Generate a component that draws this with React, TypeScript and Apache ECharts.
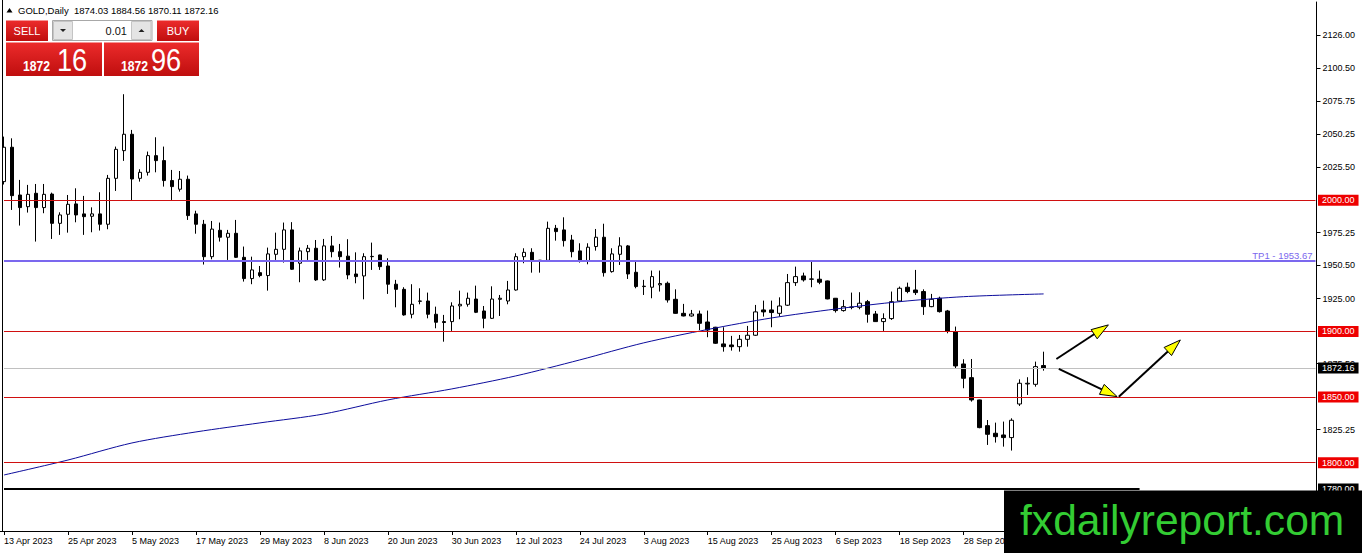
import React, { useEffect, useRef } from "react";
import * as echarts from "echarts";

const FONT = "Liberation Sans";
const SYMBOL = "GOLD,Daily";
const FIRST_DAY = "2023-04-13";
const SLOT_COUNT = 165;
const LAST_LABEL_BAR = 120;
const MONTHS = ["Jan", "Feb", "Mar", "Apr", "May", "Jun", "Jul", "Aug", "Sep", "Oct", "Nov", "Dec"];

// daily bars: [open, high, low, close]
const ohlc: number[][] = [
  [2014.2, 2048.5, 2012.0, 2040.4],
  [2040.4, 2047.2, 1992.6, 2003.5],
  [2004.0, 2015.5, 1980.7, 1994.4],
  [1995.1, 2011.7, 1990.6, 2004.5],
  [2005.3, 2012.4, 1968.5, 1994.4],
  [1994.4, 2012.4, 1990.1, 2004.5],
  [2004.7, 2005.8, 1970.5, 1982.4],
  [1982.4, 1990.8, 1973.6, 1988.8],
  [1989.3, 2004.0, 1975.3, 1996.9],
  [1997.2, 2009.1, 1983.2, 1988.8],
  [1989.6, 2003.3, 1973.6, 1987.5],
  [1987.8, 1994.6, 1975.6, 1989.6],
  [1989.6, 2006.1, 1976.9, 1981.7],
  [1981.7, 2019.3, 1977.9, 2016.7],
  [2016.7, 2040.9, 2007.1, 2038.8],
  [2037.8, 2080.8, 2030.0, 2050.3],
  [2050.3, 2053.6, 1999.5, 2016.2],
  [2016.7, 2023.6, 2014.2, 2021.3],
  [2021.3, 2037.1, 2018.8, 2034.0],
  [2034.0, 2048.0, 2021.3, 2030.2],
  [2030.2, 2040.9, 2010.4, 2015.0],
  [2015.0, 2023.1, 2000.2, 2010.4],
  [2008.4, 2022.3, 2006.6, 2016.0],
  [2016.0, 2018.8, 1985.0, 1988.3],
  [1989.6, 1992.0, 1974.5, 1981.7],
  [1981.7, 1985.0, 1951.0, 1957.0],
  [1957.0, 1984.2, 1955.0, 1978.0],
  [1977.1, 1983.0, 1968.5, 1971.8],
  [1971.8, 1977.4, 1954.5, 1974.8],
  [1974.8, 1985.0, 1956.0, 1956.5],
  [1956.5, 1964.7, 1938.0, 1940.3],
  [1940.3, 1957.0, 1936.0, 1946.9],
  [1944.8, 1949.9, 1941.3, 1942.6],
  [1942.6, 1963.9, 1931.1, 1959.1],
  [1958.8, 1975.3, 1954.5, 1962.6],
  [1962.6, 1983.0, 1952.5, 1977.4],
  [1977.4, 1983.3, 1946.9, 1947.4],
  [1952.0, 1963.9, 1937.5, 1961.4],
  [1960.8, 1965.9, 1954.5, 1963.4],
  [1963.4, 1969.7, 1938.5, 1939.3],
  [1939.3, 1970.5, 1938.5, 1965.2],
  [1965.2, 1972.8, 1956.5, 1960.8],
  [1960.8, 1966.7, 1948.7, 1957.0],
  [1957.4, 1970.3, 1939.8, 1943.1],
  [1943.8, 1960.3, 1936.7, 1941.8],
  [1942.3, 1959.6, 1924.5, 1957.0],
  [1957.0, 1967.7, 1946.9, 1957.2],
  [1958.3, 1958.5, 1946.9, 1949.4],
  [1949.9, 1955.8, 1928.6, 1936.0],
  [1936.0, 1939.3, 1918.4, 1932.1],
  [1932.1, 1933.7, 1912.0, 1912.6],
  [1913.1, 1936.0, 1910.0, 1920.7],
  [1923.0, 1932.9, 1920.7, 1923.2],
  [1923.2, 1929.6, 1910.0, 1913.1],
  [1913.1, 1918.9, 1902.4, 1907.0],
  [1907.5, 1912.6, 1892.2, 1906.8],
  [1907.5, 1922.2, 1900.4, 1919.4],
  [1919.5, 1931.1, 1909.3, 1920.7],
  [1920.7, 1929.6, 1918.9, 1925.3],
  [1924.7, 1934.9, 1914.0, 1914.6],
  [1915.6, 1919.4, 1902.4, 1910.0],
  [1910.0, 1934.4, 1909.5, 1924.7],
  [1924.5, 1927.8, 1911.8, 1925.3],
  [1923.2, 1938.5, 1920.7, 1931.6],
  [1931.6, 1959.6, 1931.1, 1957.0],
  [1957.0, 1963.4, 1952.0, 1960.3],
  [1960.3, 1963.4, 1944.8, 1954.5],
  [1954.0, 1954.5, 1944.8, 1954.3],
  [1954.2, 1983.7, 1953.5, 1978.6],
  [1978.6, 1981.2, 1969.2, 1976.1],
  [1977.4, 1987.0, 1964.7, 1969.2],
  [1969.7, 1973.6, 1956.5, 1960.8],
  [1961.4, 1967.2, 1952.5, 1953.8],
  [1953.8, 1967.2, 1951.2, 1964.2],
  [1964.7, 1978.1, 1961.6, 1971.8],
  [1971.8, 1982.1, 1941.8, 1944.8],
  [1945.6, 1963.4, 1944.8, 1959.1],
  [1958.8, 1971.8, 1950.7, 1965.2],
  [1965.2, 1965.9, 1940.0, 1943.8],
  [1945.1, 1953.2, 1932.9, 1934.2],
  [1934.2, 1939.3, 1927.8, 1934.5],
  [1933.7, 1946.4, 1925.3, 1941.8],
  [1935.5, 1946.4, 1930.4, 1936.5],
  [1936.7, 1938.0, 1922.0, 1924.0],
  [1924.5, 1932.1, 1913.5, 1913.8],
  [1913.8, 1921.0, 1911.5, 1911.8],
  [1911.8, 1916.4, 1911.3, 1913.3],
  [1913.3, 1915.9, 1901.1, 1906.2],
  [1907.2, 1915.9, 1895.6, 1901.1],
  [1903.2, 1903.5, 1890.5, 1891.0],
  [1890.5, 1903.2, 1884.6, 1888.4],
  [1889.7, 1896.6, 1885.4, 1888.4],
  [1888.4, 1897.3, 1884.6, 1894.0],
  [1894.0, 1904.2, 1888.4, 1897.1],
  [1897.1, 1920.2, 1896.6, 1914.9],
  [1916.4, 1923.5, 1911.3, 1914.9],
  [1916.4, 1923.5, 1903.2, 1914.4],
  [1913.8, 1926.0, 1911.3, 1919.4],
  [1920.0, 1943.8, 1919.4, 1937.2],
  [1937.2, 1949.4, 1934.7, 1941.8],
  [1942.3, 1944.8, 1938.0, 1939.3],
  [1939.8, 1953.0, 1933.7, 1940.0],
  [1939.8, 1946.4, 1936.0, 1937.5],
  [1938.5, 1938.8, 1924.5, 1924.8],
  [1925.3, 1925.5, 1914.4, 1915.9],
  [1915.9, 1924.0, 1915.1, 1918.9],
  [1918.4, 1929.6, 1916.9, 1918.6],
  [1918.4, 1929.9, 1916.9, 1921.5],
  [1922.7, 1924.0, 1906.7, 1913.1],
  [1913.3, 1915.6, 1907.3, 1907.5],
  [1907.5, 1913.8, 1900.4, 1909.8],
  [1909.8, 1930.4, 1908.8, 1922.7],
  [1923.2, 1934.2, 1922.7, 1932.9],
  [1933.7, 1937.2, 1929.1, 1930.4],
  [1931.6, 1946.9, 1927.8, 1929.6],
  [1930.4, 1932.1, 1912.6, 1918.9],
  [1918.9, 1928.6, 1918.5, 1924.5],
  [1925.3, 1926.5, 1914.4, 1915.1],
  [1915.6, 1916.4, 1898.6, 1900.0],
  [1899.9, 1903.7, 1871.9, 1873.7],
  [1875.2, 1878.8, 1856.7, 1864.3],
  [1864.8, 1879.0, 1846.5, 1847.8],
  [1847.8, 1848.0, 1826.2, 1826.7],
  [1828.2, 1832.5, 1813.5, 1821.6],
  [1822.4, 1830.5, 1815.3, 1819.8],
  [1821.1, 1831.3, 1812.2, 1819.1],
  [1819.1, 1833.8, 1809.2, 1832.3],
  [1844.7, 1863.5, 1843.2, 1860.5],
  [1860.0, 1865.1, 1851.6, 1860.5],
  [1859.7, 1877.0, 1857.9, 1873.2],
  [1874.03, 1884.56, 1870.11, 1872.16],
];

// moving average, read at a few bars
const maBars = [0, 8, 16, 24, 32, 40, 48, 56, 64, 72, 80, 88, 96, 104, 112, 120, 130];
const maValues = [1790.6, 1802.0, 1815.0, 1823.4, 1830.3, 1837.1, 1847.8, 1856.2, 1866.1, 1878.3, 1891.3, 1901.5, 1910.3, 1917.1, 1922.7, 1926.5, 1928.6];

const redLevels = [2000, 1900, 1850, 1800];
const tpLevel = 1953.67;
const bidLevel = 1872.16;
const supportLevel = 1780;
const supportEndBar = 142;
const yTickValues = [2126.0, 2100.5, 2075.75, 2050.25, 2025.5, 1975.25, 1950.5, 1925.0, 1875.5, 1825.25];
const Y_MIN = 1747.9;
const Y_MAX = 2151.1;

const sellPrice = "1872.16";
const buyPrice = "1872.96";
const lotSize = "0.01";

// hand-drawn arrows: [bar, price] -> [bar, price]
const arrows = [
  { from: [131.6, 1879.0], to: [138.1, 1905.0] },
  { from: [131.9, 1871.4], to: [139.2, 1850.3] },
  { from: [139.4, 1850.3], to: [147.1, 1893.5] },
];

function buildDates(first: string, n: number): string[] {
  const out: string[] = [];
  const d = new Date(first + "T00:00:00Z");
  while (out.length < n) {
    const wd = d.getUTCDay();
    if (wd !== 0 && wd !== 6) out.push(`${d.getUTCDate()} ${MONTHS[d.getUTCMonth()]} ${d.getUTCFullYear()}`);
    d.setUTCDate(d.getUTCDate() + 1);
  }
  return out;
}

const dates = buildDates(FIRST_DAY, SLOT_COUNT);
const LAST = SLOT_COUNT - 1;

function boxLabel(text: string, bg: string) {
  return {
    show: true,
    position: "end",
    distance: 2.5,
    formatter: text,
    color: "#fff",
    backgroundColor: bg,
    padding: [1, 4, 0, 4],
    fontSize: 9,
    lineHeight: 10,
    fontFamily: FONT,
  };
}

function levelLine(value: number, lineStyle: any, label: any, from = 0, to = LAST) {
  return [
    { coord: [from, value], lineStyle, label },
    { coord: [to, value] },
  ];
}

function buildOption(): any {
  const markData: any[] = [];
  markData.push(levelLine(bidLevel, { color: "#c0c0c0", width: 1, type: "solid" }, boxLabel(bidLevel.toFixed(2), "#000")));
  redLevels.forEach((v) => {
    markData.push(levelLine(v, { color: "#d01010", width: 1, type: "solid" }, boxLabel(v.toFixed(2), "#ee0000")));
  });
  markData.push(
    levelLine(tpLevel, { color: "#7b68ee", width: 2, type: "solid" }, {
      show: true,
      position: "insideEndTop",
      distance: [3, 1],
      formatter: `TP1 - ${tpLevel.toFixed(2)}`,
      color: "#7b68ee",
      fontSize: 9.5,
      fontFamily: FONT,
    })
  );
  markData.push(levelLine(supportLevel, { color: "#000", width: 2, type: "solid" }, { show: false }, 0, supportEndBar));
  markData.push(
    levelLine(supportLevel, { color: "rgba(0,0,0,0)", width: 1, type: "solid" }, boxLabel(supportLevel.toFixed(2), "#000"), LAST - 1, LAST)
  );

  return {
    animation: false,
    backgroundColor: "#fff",
    textStyle: { fontFamily: FONT },
    grid: { left: -0.5, top: 2, width: 1320, height: 529, containLabel: false, show: false },
    xAxis: {
      type: "category",
      data: dates,
      boundaryGap: true,
      axisLine: { show: true, lineStyle: { color: "#000", width: 1 } },
      axisTick: { show: true, alignWithLabel: true, interval: 7, length: 4, lineStyle: { color: "#000" } },
      axisLabel: {
        interval: 7,
        align: "left",
        margin: 5,
        color: "#000",
        fontSize: 9,
        fontFamily: FONT,
        hideOverlap: false,
        formatter: (v: string, idx: number) => (idx <= LAST_LABEL_BAR ? v : ""),
      },
      splitLine: { show: false },
    },
    yAxis: {
      type: "value",
      position: "right",
      offset: -3,
      min: Y_MIN,
      max: Y_MAX,
      splitLine: { show: false },
      axisLine: { show: true, lineStyle: { color: "#000", width: 1 } },
      axisTick: { show: true, length: 4, lineStyle: { color: "#000" }, customValues: yTickValues },
      axisLabel: {
        customValues: yTickValues,
        formatter: (v: number) => v.toFixed(2),
        color: "#000",
        fontSize: 9,
        fontFamily: FONT,
        margin: 6,
      },
    },
    series: [
      {
        type: "candlestick",
        data: ohlc.map(([o, h, l, c]) => [o, c, l, h]),
        barWidth: 4,
        itemStyle: {
          color: "#fff",
          color0: "#000",
          borderColor: "#000",
          borderColor0: "#000",
          borderColorDoji: "#000",
          borderWidth: 1,
        },
        z: 2,
        silent: true,
      },
      {
        type: "line",
        data: maBars.map((k, i) => [k, maValues[i]]),
        showSymbol: false,
        symbol: "none",
        smooth: 0.3,
        lineStyle: { color: "#0c0c9c", width: 1 },
        z: 3,
        silent: true,
        markLine: {
          symbol: ["none", "none"],
          silent: true,
          animation: false,
          data: markData,
        },
      },
    ],
  };
}

function staticGraphics(): any[] {
  const red = () =>
    new echarts.graphic.LinearGradient(0, 0, 0, 1, [
      { offset: 0, color: "#ec2b2b" },
      { offset: 1, color: "#bf0e0e" },
    ]);
  const txt = (x: number, y: number, text: string, size: number, fill: string, align = "left", weight = "normal", scaleX = 1) => ({
    type: "text",
    x,
    y,
    scaleX,
    z: 101,
    style: {
      text,
      fill,
      fontSize: size,
      fontWeight: weight,
      fontFamily: FONT,
      align,
      textAlign: align,
      verticalAlign: "middle",
      textVerticalAlign: "middle",
    },
  });
  const [sellBig, sellSmall] = sellPrice.split(".");
  const [buyBig, buySmall] = buyPrice.split(".");
  const last = ohlc[ohlc.length - 1];
  return [
    // chart frame (left)
    { type: "line", shape: { x1: 2.5, y1: 0, x2: 2.5, y2: 531 }, style: { stroke: "#000", lineWidth: 1 }, z: 60 },
    // header
    { type: "polygon", shape: { points: [[6.5, 12.5], [12.5, 12.5], [9.5, 8]] }, style: { fill: "#000" }, z: 101 },
    txt(18, 10, `${SYMBOL}  ${last.map((v) => v.toFixed(2)).join(" ")}`, 9.5, "#000"),
    // sell / buy panel
    { type: "rect", shape: { x: 6, y: 20.5, width: 42, height: 20.5 }, style: { fill: red() }, z: 100 },
    txt(27, 31, "SELL", 11, "#fff", "center"),
    { type: "rect", shape: { x: 52.5, y: 20.5, width: 99.5, height: 20 }, style: { fill: "#fff", stroke: "#a8a8a8", lineWidth: 1 }, z: 100 },
    { type: "rect", shape: { x: 53.5, y: 21.5, width: 19, height: 18 }, style: { fill: "#e4e4e4", stroke: "#c4c4c4", lineWidth: 1 }, z: 100 },
    { type: "polygon", shape: { points: [[60, 29], [66, 29], [63, 32]] }, style: { fill: "#222" }, z: 101 },
    { type: "rect", shape: { x: 131.5, y: 21.5, width: 19.5, height: 18 }, style: { fill: "#e4e4e4", stroke: "#c4c4c4", lineWidth: 1 }, z: 100 },
    { type: "polygon", shape: { points: [[138.5, 32], [144.5, 32], [141.5, 29]] }, style: { fill: "#222" }, z: 101 },
    txt(127, 31, lotSize, 11, "#111", "right"),
    { type: "rect", shape: { x: 157, y: 20.5, width: 42, height: 20.5 }, style: { fill: red() }, z: 100 },
    txt(178, 31, "BUY", 11, "#fff", "center"),
    { type: "rect", shape: { x: 6, y: 42.5, width: 96, height: 33.5 }, style: { fill: red() }, z: 100 },
    { type: "rect", shape: { x: 104, y: 42.5, width: 95, height: 33.5 }, style: { fill: red() }, z: 100 },
    txt(23, 66, sellBig, 14, "#fff", "left", "bold", 0.87),
    txt(57, 59.5, sellSmall, 32, "#fff", "left", "normal", 0.85),
    txt(121, 66, buyBig, 14, "#fff", "left", "bold", 0.87),
    txt(151, 59.5, buySmall, 32, "#fff", "left", "normal", 0.85),
    // watermark
    { type: "rect", shape: { x: 1004, y: 490.5, width: 358, height: 62.5 }, style: { fill: "#000" }, z: 110 },
    {
      type: "text",
      x: 1020,
      y: 519.5,
      z: 111,
      style: {
        text: "fxdailyreport.com",
        fill: "#33cc33",
        fontSize: 42.6,
        fontFamily: FONT,
        align: "left",
        textAlign: "left",
        verticalAlign: "middle",
        textVerticalAlign: "middle",
      },
    },
  ];
}

export default function App() {
  const ref = useRef<HTMLDivElement>(null);
  useEffect(() => {
    const el = ref.current!;
    const chart = echarts.init(el, null, { renderer: "svg" });
    chart.setOption(buildOption());
    const px = (k: number, p: number) => {
      const k0 = Math.floor(k);
      const a = chart.convertToPixel({ gridIndex: 0 }, [k0, p]) as number[];
      const b = chart.convertToPixel({ gridIndex: 0 }, [k0 + 1, p]) as number[];
      return [a[0] + (k - k0) * (b[0] - a[0]), a[1]];
    };
    const arrowEls: any[] = [];
    arrows.forEach((ar) => {
      const [x0, y0] = px(ar.from[0], ar.from[1]);
      const [x1, y1] = px(ar.to[0], ar.to[1]);
      const dx = x1 - x0;
      const dy = y1 - y0;
      const len = Math.hypot(dx, dy);
      const ux = dx / len;
      const uy = dy / len;
      const hl = 17;
      const hw = 5.5;
      const bx = x1 - ux * hl;
      const by = y1 - uy * hl;
      arrowEls.push({
        type: "line",
        shape: { x1: x0, y1: y0, x2: bx + ux * 4, y2: by + uy * 4 },
        style: { stroke: "#000", lineWidth: 2 },
        z: 50,
      });
      arrowEls.push({
        type: "polygon",
        shape: { points: [[x1, y1], [bx - uy * hw, by + ux * hw], [bx + uy * hw, by - ux * hw]] },
        style: { fill: "#ffff00", stroke: "#000", lineWidth: 1 },
        z: 51,
      });
    });
    chart.setOption({ graphic: { elements: [...staticGraphics(), ...arrowEls] } });
    return () => chart.dispose();
  }, []);
  return (
    <div
      ref={ref}
      style={{ position: "fixed", left: 0, top: 0, width: 1362, height: 553, background: "#fff" }}
    />
  );
}
